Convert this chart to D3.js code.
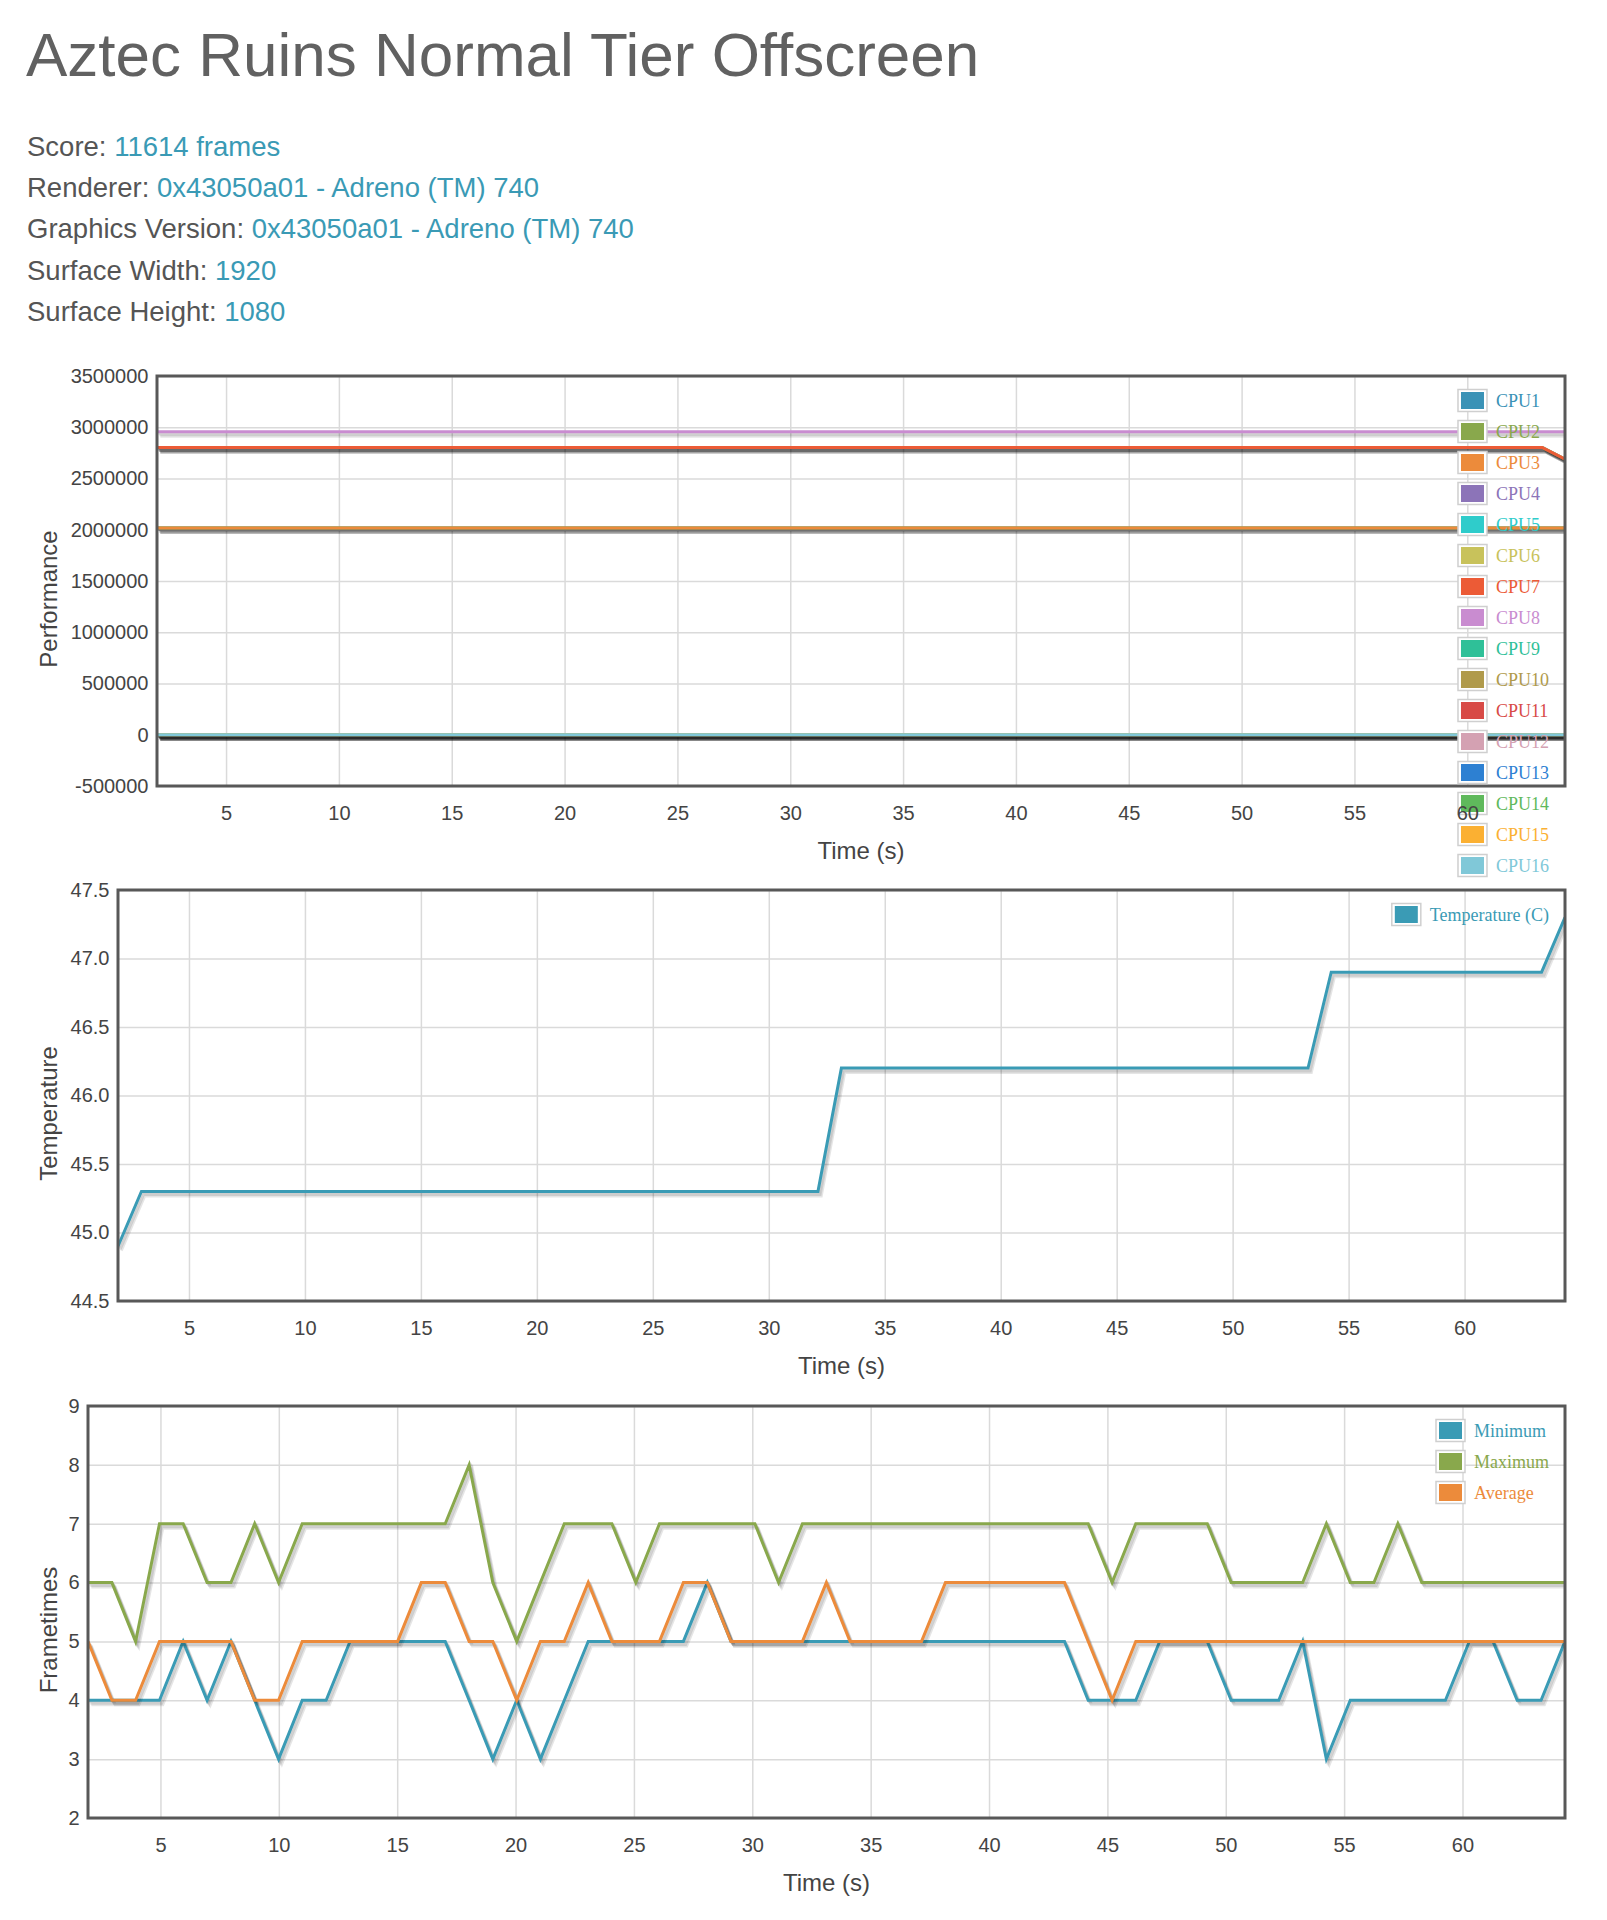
<!DOCTYPE html>
<html>
<head>
<meta charset="utf-8">
<script src="https://cdn.jsdelivr.net/npm/d3@7"></script>
<style>
  body { margin: 0; background: #fff; }
  svg text { font-family: "Liberation Sans", Arial, Helvetica, sans-serif; }
  .legend text { font-family: "Liberation Serif", "Times New Roman", serif; }
</style>
</head>
<body>
<div id="page"></div>
<script>
// sample times (s), shared by all three charts
var times = [
    1.94, 2.95, 3.95, 4.96, 5.96, 6.97, 7.98, 8.98, 9.99, 10.99,
    12.00, 13.01, 14.01, 15.02, 16.02, 17.03, 18.04, 19.04, 20.05, 21.05,
    22.06, 23.07, 24.07, 25.08, 26.08, 27.09, 28.10, 29.10, 30.11, 31.11,
    32.12, 33.13, 34.13, 35.14, 36.14, 37.15, 38.16, 39.16, 40.17, 41.17,
    42.18, 43.19, 44.19, 45.20, 46.20, 47.21, 48.22, 49.22, 50.23, 51.23,
    52.24, 53.25, 54.25, 55.26, 56.26, 57.27, 58.28, 59.28, 60.29, 61.29,
    62.31, 63.32, 64.33
];
var timeTicks = [5, 10, 15, 20, 25, 30, 35, 40, 45, 50, 55, 60];

var infoLabels = ["Score: ", "Renderer: ", "Graphics Version: ", "Surface Width: ", "Surface Height: "];
var infoValues = ["11614 frames", "0x43050a01 - Adreno (TM) 740", "0x43050a01 - Adreno (TM) 740", "1920", "1080"];

// CPU frequency samples (kHz)
var freqLittle = [
    2016000, 2016000, 2016000, 2016000, 2016000, 2016000, 2016000, 2016000, 2016000, 2016000,
    2016000, 2016000, 2016000, 2016000, 2016000, 2016000, 2016000, 2016000, 2016000, 2016000,
    2016000, 2016000, 2016000, 2016000, 2016000, 2016000, 2016000, 2016000, 2016000, 2016000,
    2016000, 2016000, 2016000, 2016000, 2016000, 2016000, 2016000, 2016000, 2016000, 2016000,
    2016000, 2016000, 2016000, 2016000, 2016000, 2016000, 2016000, 2016000, 2016000, 2016000,
    2016000, 2016000, 2016000, 2016000, 2016000, 2016000, 2016000, 2016000, 2016000, 2016000,
    2016000, 2016000, 2016000
];
var freqMid = [
    2803200, 2803200, 2803200, 2803200, 2803200, 2803200, 2803200, 2803200, 2803200, 2803200,
    2803200, 2803200, 2803200, 2803200, 2803200, 2803200, 2803200, 2803200, 2803200, 2803200,
    2803200, 2803200, 2803200, 2803200, 2803200, 2803200, 2803200, 2803200, 2803200, 2803200,
    2803200, 2803200, 2803200, 2803200, 2803200, 2803200, 2803200, 2803200, 2803200, 2803200,
    2803200, 2803200, 2803200, 2803200, 2803200, 2803200, 2803200, 2803200, 2803200, 2803200,
    2803200, 2803200, 2803200, 2803200, 2803200, 2803200, 2803200, 2803200, 2803200, 2803200,
    2803200, 2803200, 2688000
];
var freqPrime = [
    2956800, 2956800, 2956800, 2956800, 2956800, 2956800, 2956800, 2956800, 2956800, 2956800,
    2956800, 2956800, 2956800, 2956800, 2956800, 2956800, 2956800, 2956800, 2956800, 2956800,
    2956800, 2956800, 2956800, 2956800, 2956800, 2956800, 2956800, 2956800, 2956800, 2956800,
    2956800, 2956800, 2956800, 2956800, 2956800, 2956800, 2956800, 2956800, 2956800, 2956800,
    2956800, 2956800, 2956800, 2956800, 2956800, 2956800, 2956800, 2956800, 2956800, 2956800,
    2956800, 2956800, 2956800, 2956800, 2956800, 2956800, 2956800, 2956800, 2956800, 2956800,
    2956800, 2956800, 2956800
];
var freqNone = [
    0, 0, 0, 0, 0, 0, 0, 0, 0, 0, 0, 0, 0, 0, 0, 0, 0, 0, 0, 0, 0,
    0, 0, 0, 0, 0, 0, 0, 0, 0, 0, 0, 0, 0, 0, 0, 0, 0, 0, 0, 0, 0,
    0, 0, 0, 0, 0, 0, 0, 0, 0, 0, 0, 0, 0, 0, 0, 0, 0, 0, 0, 0, 0
];
var cpuNames = ["CPU1", "CPU2", "CPU3", "CPU4", "CPU5", "CPU6", "CPU7", "CPU8",
    "CPU9", "CPU10", "CPU11", "CPU12", "CPU13", "CPU14", "CPU15", "CPU16"];
var cpuColors = ["#3a92b6", "#89a84c", "#ec8b3b", "#8c74b8", "#2fcccb", "#c8c25b", "#ec5b36", "#c98cd0",
    "#2fc098", "#b09a4b", "#d84a46", "#d4a1b2", "#2d80d2", "#5fb95c", "#fbb032", "#80c8d8"];
var cpuValues = [freqLittle, freqLittle, freqLittle, freqMid, freqMid, freqMid, freqMid, freqPrime,
    freqNone, freqNone, freqNone, freqNone, freqNone, freqNone, freqNone, freqNone];
var perfTicks = [-500000, 0, 500000, 1000000, 1500000, 2000000, 2500000, 3000000, 3500000];

// temperature (C)
var temperature = [
    44.9, 45.3, 45.3, 45.3, 45.3, 45.3, 45.3, 45.3, 45.3, 45.3,
    45.3, 45.3, 45.3, 45.3, 45.3, 45.3, 45.3, 45.3, 45.3, 45.3,
    45.3, 45.3, 45.3, 45.3, 45.3, 45.3, 45.3, 45.3, 45.3, 45.3,
    45.3, 46.2, 46.2, 46.2, 46.2, 46.2, 46.2, 46.2, 46.2, 46.2,
    46.2, 46.2, 46.2, 46.2, 46.2, 46.2, 46.2, 46.2, 46.2, 46.2,
    46.2, 46.2, 46.9, 46.9, 46.9, 46.9, 46.9, 46.9, 46.9, 46.9,
    46.9, 46.9, 47.3
];
var tempTicks = [44.5, 45.0, 45.5, 46.0, 46.5, 47.0, 47.5];

// frametimes (ms)
var frameMin = [
    4, 4, 4, 4, 5, 4, 5, 4, 3, 4,
    4, 5, 5, 5, 5, 5, 4, 3, 4, 3,
    4, 5, 5, 5, 5, 5, 6, 5, 5, 5,
    5, 5, 5, 5, 5, 5, 5, 5, 5, 5,
    5, 5, 4, 4, 4, 5, 5, 5, 4, 4,
    4, 5, 3, 4, 4, 4, 4, 4, 5, 5,
    4, 4, 5
];
var frameMax = [
    6, 6, 5, 7, 7, 6, 6, 7, 6, 7,
    7, 7, 7, 7, 7, 7, 8, 6, 5, 6,
    7, 7, 7, 6, 7, 7, 7, 7, 7, 6,
    7, 7, 7, 7, 7, 7, 7, 7, 7, 7,
    7, 7, 7, 6, 7, 7, 7, 7, 6, 6,
    6, 6, 7, 6, 6, 7, 6, 6, 6, 6,
    6, 6, 6
];
var frameAvg = [
    5, 4, 4, 5, 5, 5, 5, 4, 4, 5,
    5, 5, 5, 5, 6, 6, 5, 5, 4, 5,
    5, 6, 5, 5, 5, 6, 6, 5, 5, 5,
    5, 6, 5, 5, 5, 5, 6, 6, 6, 6,
    6, 6, 5, 4, 5, 5, 5, 5, 5, 5,
    5, 5, 5, 5, 5, 5, 5, 5, 5, 5,
    5, 5, 5
];
var frameNames = ["Minimum", "Maximum", "Average"];
var frameColors = ["#3a9bb5", "#89a84c", "#ec8b3b"];
var frameTicks = [2, 3, 4, 5, 6, 7, 8, 9];

var svg = d3.select("#page").append("svg")
    .attr("width", 1607)
    .attr("height", 1920);

// plain hyphen for negatives, like the original page
function plainFormat(spec) {
    var f = d3.format(spec);
    return function (v) { return f(v).replace("\u2212", "-"); };
}

// header
svg.append("text")
    .attr("x", 26)
    .attr("y", 76)
    .attr("font-size", 62)
    .attr("fill", "#616161")
    .text("Aztec Ruins Normal Tier Offscreen");

infoLabels.forEach(function (label, i) {
    var t = svg.append("text")
        .attr("x", 27)
        .attr("y", 155.5 + i * 41.4)
        .attr("font-size", 27.5);
    t.append("tspan").attr("fill", "#555").text(label);
    t.append("tspan").attr("fill", "#3a9ab5").text(infoValues[i]);
});

function drawChart(cfg) {
    var w = cfg.right - cfg.left,
        h = cfg.bottom - cfg.top,
        g = svg.append("g").attr("transform", "translate(" + cfg.left + "," + cfg.top + ")"),
        x = d3.scaleLinear().domain(d3.extent(times)).range([0, w]),
        y = d3.scaleLinear().domain(d3.extent(cfg.yTicks)).range([h, 0]),
        clipId = "clip" + cfg.id;

    // grid
    g.append("g")
        .attr("class", "grid")
        .attr("transform", "translate(0," + h + ")")
        .call(d3.axisBottom(x).tickValues(timeTicks).tickSize(-h).tickFormat(""));
    g.append("g")
        .attr("class", "grid")
        .call(d3.axisLeft(y).tickValues(cfg.yTicks).tickSize(-w).tickFormat(""));
    g.selectAll(".grid .domain").remove();
    g.selectAll(".grid line").attr("stroke", "#dadada").attr("stroke-width", 1.5);

    svg.append("clipPath").attr("id", clipId)
        .append("rect").attr("width", w).attr("height", h);

    var plot = g.append("g").attr("clip-path", "url(#" + clipId + ")");
    var line = d3.line()
        .x(function (d, i) { return x(times[i]); })
        .y(function (d) { return y(d); });

    // each series: shadow first, then the line
    cfg.series.forEach(function (s) {
        var j;
        for (j = 1; j <= 3; ++j) {
            plot.append("path")
                .datum(s.values)
                .attr("d", line)
                .attr("transform", "translate(" + (j * 1.1) + "," + (j * 1.5) + ")")
                .attr("fill", "none")
                .attr("stroke", "rgba(0,0,0,0.1)")
                .attr("stroke-width", 3);
        }
        plot.append("path")
            .datum(s.values)
            .attr("d", line)
            .attr("fill", "none")
            .attr("stroke", s.color)
            .attr("stroke-width", 3);
    });

    // border
    g.append("rect")
        .attr("width", w)
        .attr("height", h)
        .attr("fill", "none")
        .attr("stroke", "#585858")
        .attr("stroke-width", 3);

    // legend
    var legend = g.append("g").attr("class", "legend"),
        maxW = 0;
    var rows = legend.selectAll("g.row")
        .data(cfg.series)
        .enter().append("g")
        .attr("class", "row")
        .attr("transform", function (d, i) { return "translate(0," + (24.5 + i * 31) + ")"; });
    rows.append("text")
        .attr("y", 6)
        .attr("font-size", 18)
        .attr("fill", function (d) { return d.color; })
        .text(function (d) { return d.name; })
        .each(function () { maxW = Math.max(maxW, this.getComputedTextLength()); });
    var textX = w - 16 - maxW;
    rows.select("text").attr("x", textX);
    rows.append("rect")
        .attr("x", textX - 38)
        .attr("y", -11)
        .attr("width", 29)
        .attr("height", 22)
        .attr("fill", "#fff")
        .attr("stroke", "#cfcfcf")
        .attr("stroke-width", 1.5);
    rows.append("rect")
        .attr("x", textX - 35)
        .attr("y", -8.5)
        .attr("width", 23)
        .attr("height", 17)
        .attr("fill", function (d) { return d.color; });

    // tick labels
    var yAxis = g.append("g")
        .call(d3.axisLeft(y).tickValues(cfg.yTicks).tickSize(0).tickPadding(8.5).tickFormat(cfg.yFormat));
    var xAxis = g.append("g")
        .attr("transform", "translate(0," + h + ")")
        .call(d3.axisBottom(x).tickValues(timeTicks).tickSize(0).tickPadding(20).tickFormat(plainFormat("d")));
    [yAxis, xAxis].forEach(function (a) {
        a.select(".domain").remove();
        a.selectAll("text")
            .attr("font-size", 20)
            .attr("fill", "#444")
            .style("font-family", "'Liberation Sans', Arial, sans-serif");
    });

    // axis titles
    svg.append("text")
        .attr("x", cfg.left + w / 2)
        .attr("y", cfg.bottom + 73)
        .attr("text-anchor", "middle")
        .attr("font-size", 24)
        .attr("fill", "#444")
        .text("Time (s)");
    svg.append("text")
        .attr("transform", "translate(57," + (cfg.top + h / 2 + 18) + ") rotate(-90)")
        .attr("text-anchor", "middle")
        .attr("font-size", 24)
        .attr("fill", "#444")
        .text(cfg.yTitle);
}

drawChart({
    id: 1, left: 157, right: 1565, top: 376, bottom: 786,
    yTicks: perfTicks, yFormat: plainFormat("d"), yTitle: "Performance",
    series: cpuNames.map(function (n, i) {
        return { name: n, color: cpuColors[i], values: cpuValues[i] };
    })
});

drawChart({
    id: 2, left: 118, right: 1565, top: 890, bottom: 1301,
    yTicks: tempTicks, yFormat: plainFormat(".1f"), yTitle: "Temperature",
    series: [{ name: "Temperature (C)", color: "#3a9bb5", values: temperature }]
});

drawChart({
    id: 3, left: 88, right: 1565, top: 1406, bottom: 1818,
    yTicks: frameTicks, yFormat: plainFormat("d"), yTitle: "Frametimes",
    series: [frameMin, frameMax, frameAvg].map(function (v, i) {
        return { name: frameNames[i], color: frameColors[i], values: v };
    })
});
</script>
</body>
</html>
